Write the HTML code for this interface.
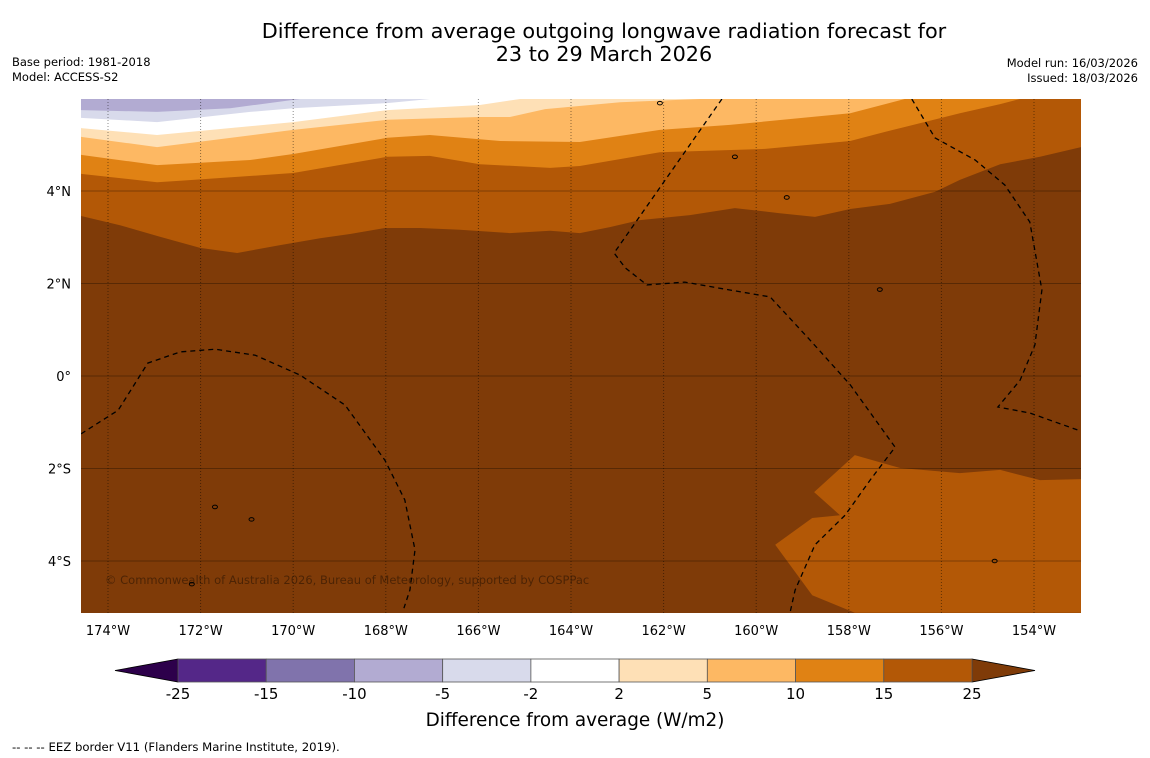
<!DOCTYPE html>
<html><head><meta charset="utf-8">
<style>
body{margin:0;background:#fff;}
#root{position:relative;width:1150px;height:758px;overflow:hidden;font-family:"DejaVu Sans","Liberation Sans",sans-serif;}
svg text{font-family:"DejaVu Sans","Liberation Sans",sans-serif;}
</style></head>
<body>
<div id="root">
<svg id="svg" width="1150" height="758" xmlns="http://www.w3.org/2000/svg">
<text x="604" y="38" font-size="20.8" text-anchor="middle">Difference from average outgoing longwave radiation forecast for</text>
<text x="604" y="61" font-size="20.8" text-anchor="middle">23 to 29 March 2026</text>
<text x="12" y="66" font-size="11.5">Base period: 1981-2018</text>
<text x="12" y="81" font-size="11.5">Model: ACCESS-S2</text>
<text x="1138" y="67" font-size="11.5" text-anchor="end">Model run: 16/03/2026</text>
<text x="1138" y="82" font-size="11.5" text-anchor="end">Issued: 18/03/2026</text>
<defs><clipPath id="mapclip"><rect x="81" y="99" width="1000" height="514"/></clipPath></defs>
<g id="map" clip-path="url(#mapclip)"></g>
<g id="axes"></g>
<g id="cbar"></g>
<text x="575" y="726" font-size="18.4" text-anchor="middle">Difference from average (W/m2)</text>
<text x="12" y="751" font-size="11.7">--  --  -- EEZ border V11 (Flanders Marine Institute, 2019).</text>
</svg>
</div>
<script>
// ---- data ----
const lonTicks=[-174,-172,-170,-168,-166,-164,-162,-160,-158,-156,-154];
const latTicks=[4,2,0,-2,-4];
const cbLevels=[-25,-15,-10,-5,-2,2,5,10,15,25];
const cbColors=["#542788","#8073ac","#b2abd2","#d8daeb","#ffffff","#fee0b6","#fdb863","#e08214","#b35806"];
const underColor="#2d004b", overColor="#7f3b08";
// band boundaries (lon,lat): area north of each boundary is filled with given color
const b15=[[-174.58,3.46],[-173.74,3.26],[-172.88,3.01],[-172.01,2.77],[-171.21,2.66],[-170.28,2.83],[-169.42,2.98],[-168.77,3.07],[-168.02,3.2],[-167.26,3.2],[-166.4,3.16],[-165.32,3.09],[-164.45,3.14],[-163.81,3.09],[-163.16,3.22],[-162.51,3.37],[-161.43,3.48],[-160.46,3.63],[-159.49,3.52],[-158.73,3.44],[-157.97,3.61],[-157.11,3.72],[-156.14,3.98],[-155.6,4.24],[-154.73,4.58],[-153.87,4.74],[-152.98,4.95]];
const b15south=[[-157.87,-1.71],[-156.89,-1.99],[-155.6,-2.1],[-154.73,-2.03],[-153.87,-2.25],[-152.98,-2.23],[-152.98,-5.12],[-157.87,-5.12],[-158.79,-4.74],[-159.59,-3.65],[-158.79,-3.07],[-158.19,-3.01],[-158.75,-2.51]];
const b10=[[-174.58,4.37],[-172.94,4.19],[-172.44,4.22],[-170.0,4.39],[-167.97,4.74],[-167.05,4.76],[-165.97,4.58],[-164.45,4.5],[-163.81,4.54],[-162.08,4.84],[-159.81,4.91],[-157.97,5.08],[-157.33,5.25],[-155.6,5.68],[-154.73,5.88],[-154.3,5.99],[-152.98,5.99]];
const b5=[[-174.58,4.78],[-172.94,4.56],[-170.93,4.67],[-170.0,4.8],[-167.97,5.15],[-167.05,5.21],[-165.53,5.08],[-163.81,5.06],[-162.08,5.32],[-160.57,5.43],[-157.97,5.68],[-156.79,5.99]];
const b2=[[-174.58,5.17],[-172.94,4.95],[-170.0,5.32],[-167.97,5.54],[-165.97,5.6],[-165.32,5.6],[-164.56,5.77],[-162.94,5.92],[-161.21,5.99]];
const bm2=[[-174.58,5.36],[-172.94,5.21],[-170.0,5.49],[-167.97,5.75],[-165.97,5.86],[-165.1,5.99]];
const bm5=[[-174.58,5.58],[-172.94,5.49],[-170.93,5.71],[-170.0,5.79],[-167.97,5.9],[-167.05,5.99]];
const bm10=[[-174.58,5.75],[-172.94,5.71],[-171.36,5.79],[-170.0,5.97],[-169.85,5.99]];
const eezA=[[-174.58,-1.25],[-173.78,-0.74],[-173.14,0.28],[-172.44,0.52],[-171.69,0.58],[-170.82,0.45],[-169.85,0.02],[-168.88,-0.63],[-168.02,-1.82],[-167.59,-2.68],[-167.37,-3.76],[-167.48,-4.63],[-167.61,-5.02]];
const eezB=[[-160.74,5.99],[-163.07,2.66],[-162.83,2.34],[-162.36,1.97],[-161.54,2.03],[-160.57,1.86],[-159.7,1.71],[-158.84,0.78],[-157.97,-0.19],[-157.0,-1.54],[-157.54,-2.25],[-158.08,-3.01],[-158.73,-3.65],[-159.16,-4.63],[-159.27,-5.12]];
const eezC=[[-156.64,5.99],[-156.14,5.15],[-155.27,4.67],[-154.63,4.13],[-154.09,3.33],[-153.83,1.86],[-153.98,0.67],[-154.3,-0.09],[-154.78,-0.67],[-154.09,-0.8],[-153.05,-1.17]];
const islands=[[-159.34,3.86],[-157.33,1.87],[-171.69,-2.83],[-172.19,-4.5],[-154.85,-4.0],[-162.08,5.9],[-160.46,4.74],[-170.9,-3.1]];

// ---- scales ----
const X0=81,X1=1081,Y0=99,Y1=613;
function xs(lon){return 108+(lon+174)*46.3;}
function ys(lat){return 376-lat*46.25;}
const NS="http://www.w3.org/2000/svg";
function mk(tag,attrs,parent){const e=document.createElementNS(NS,tag);for(const k in attrs)e.setAttribute(k,attrs[k]);parent.appendChild(e);return e;}
const map=document.getElementById('map'),axes=document.getElementById('axes'),cbar=document.getElementById('cbar');
function pts(a){return a.map(p=>xs(p[0]).toFixed(1)+','+ys(p[1]).toFixed(1)).join(' ');}

let bg=mk('rect',{x:X0,y:Y0,width:X1-X0,height:Y1-Y0,fill:overColor},map);


const bands=[[b15,cbColors[8],'band-15-25'],[b10,cbColors[7],'band-10-15'],[b5,cbColors[6],'band-5-10'],[b2,cbColors[5],'band-2-5'],[bm2,cbColors[4],'band-neutral'],[bm5,cbColors[3],'band-minus5-minus2'],[bm10,cbColors[2],'band-minus10-minus5']];
bands.forEach(b=>{
  const a=b[0];
  const poly=pts(a)+' '+(X1+5)+','+(Y0-5)+' '+(X0-5)+','+(Y0-5);
  const e=mk('polygon',{points:poly,fill:b[1]},map);
  
  
});
let sp=mk('polygon',{points:pts(b15south),fill:cbColors[8]},map);



lonTicks.forEach(l=>{
  const g=mk('line',{x1:xs(l),x2:xs(l),y1:Y0,y2:Y1,stroke:'#000','stroke-opacity':0.45,'stroke-width':1,'stroke-dasharray':'1,2'},map);
  
  
});
latTicks.forEach(l=>{
  const g=mk('line',{x1:X0,x2:X1,y1:ys(l),y2:ys(l),stroke:'#000','stroke-opacity':0.3,'stroke-width':1},map);
  
  
});
[eezA,eezB,eezC].forEach(a=>{
  const e=mk('polyline',{points:pts(a),fill:'none',stroke:'#000','stroke-width':1.3,'stroke-dasharray':'5,4'},map);
  
  
});
islands.forEach(p=>{
  const e=mk('ellipse',{cx:xs(p[0]),cy:ys(p[1]),rx:2.5,ry:1.8,fill:'none',stroke:'#000','stroke-width':1},map);
  
  
});
let cp=mk('text',{x:105,y:584,'font-size':11.5,fill:'#000','fill-opacity':0.4},map);
cp.textContent='© Commonwealth of Australia 2026, Bureau of Meteorology, supported by COSPPac';



lonTicks.forEach(l=>{
  const t=mk('text',{x:xs(l),y:635,'font-size':13,'text-anchor':'middle'},axes);
  t.textContent=Math.abs(l)+'°W';
  
  
});
latTicks.forEach(l=>{
  const t=mk('text',{x:71,y:ys(l)+5,'font-size':13,'text-anchor':'end'},axes);
  t.textContent=l===0?'0°':Math.abs(l)+'°'+(l>0?'N':'S');
  
  
});

const cbX0=178,cbX1=972,cbY=659,cbH=23,n=cbColors.length,w=(cbX1-cbX0)/n;
let tl=mk('polygon',{points:`${cbX0},${cbY} 115,${cbY+cbH/2} ${cbX0},${cbY+cbH}`,fill:underColor,stroke:'#000','stroke-width':0.8},cbar);


let tr=mk('polygon',{points:`${cbX1},${cbY} 1035,${cbY+cbH/2} ${cbX1},${cbY+cbH}`,fill:overColor,stroke:'#000','stroke-width':0.8},cbar);


cbColors.forEach((c,i)=>{
  const r=mk('rect',{x:cbX0+i*w,y:cbY,width:w,height:cbH,fill:c,stroke:'#555','stroke-width':0.8},cbar);
  
  
});
cbLevels.forEach((v,i)=>{
  const t=mk('text',{x:cbX0+i*w,y:699,'font-size':15,'text-anchor':'middle'},cbar);
  t.textContent=v;
  
  
});
</script>
</body></html>
